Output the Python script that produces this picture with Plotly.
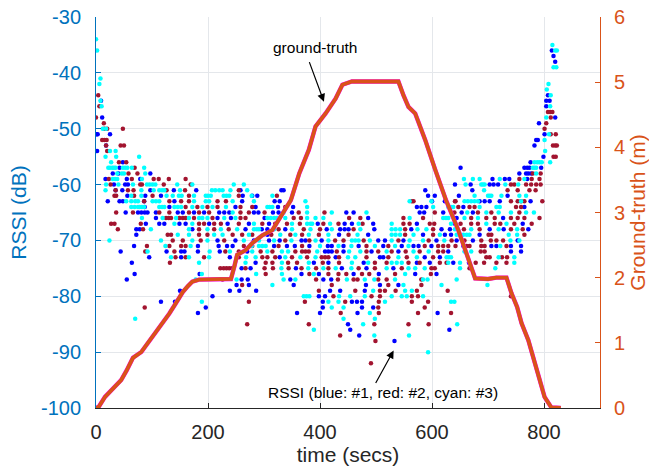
import plotly.graph_objects as go

# ---------------- data ----------------
# RSSI readings (dB) of the three receivers, grouped by dB level: (level, [times in s])
blue_rows = [
    (-36, [814]), (-37, [817]), (-38, [820]), (-44, [807]), (-45, [9, 804, 810]),
    (-46, [804]), (-48, [11, 820]), (-49, [791]), (-51, [1, 3, 25, 801]),
    (-52, [786, 789]), (-53, [18, 783]), (-54, [2]), (-55, [799]), (-56, [48, 776]),
    (-57, [42, 651, 765, 770, 774, 795]),
    (-58, [30, 40, 97, 756, 768, 772, 777]),
    (-59, [17, 55, 79, 708, 730, 738, 770]),
    (-60, [32, 52, 57, 641, 669, 703, 710, 718]),
    (-61, [35, 47, 97, 139, 179, 258, 331, 335, 588, 672]),
    (-62, [56, 88, 116, 262, 279, 288, 593, 605, 648, 735]),
    (-63, [21, 42, 48, 86, 140, 261, 319, 328, 600, 623, 685, 694, 703, 721, 776]),
    (-64, [87, 131, 249, 285, 325, 352, 573, 581, 590, 656, 765]),
    (-65, [53, 75, 81, 87, 92, 107, 146, 155, 175, 193, 220, 229, 238, 282, 290, 316,
           326, 350, 447, 460, 578, 586, 620, 653, 673]),
    (-66, [107, 217, 241, 301, 486, 644, 727]),
    (-67, [89, 113, 122, 149, 160, 202, 235, 273, 309, 396, 444, 457, 495, 573, 641, 762]),
    (-68, [72, 78, 172, 267, 296, 306, 338, 412, 436, 444, 451, 497, 563, 617, 632, 703,
           728, 772]),
    (-69, [72, 306, 434, 486, 584, 623, 634, 685]),
    (-70, [217, 249, 282, 309, 328, 367, 374, 403, 504, 516, 549, 608, 644, 673, 753]),
    (-71, [68, 182, 219, 234, 244, 318, 341, 355, 381, 414, 421, 442, 469, 513, 546, 567,
           576, 599, 656, 706, 715, 741, 759]),
    (-72, [44, 126, 152, 158, 182, 221, 270, 409, 415, 421, 442, 492, 540, 629, 741, 759]),
    (-73, [95, 152, 239, 328, 428, 507, 513, 587, 614]),
    (-74, [64, 285, 389, 415, 478, 573, 596, 638, 666]),
    (-75, [260, 276, 357, 439, 483, 531]),
    (-76, [69, 185, 367, 398, 460, 505, 570, 608]),
    (-77, [55, 260, 271, 347, 406, 420]),
    (-78, [251, 273, 353, 482, 507, 540]),
    (-79, [150, 239, 256, 286, 418, 436, 480]),
    (-80, [208, 398, 409]),
    (-81, [116, 141, 405, 457, 466, 475]),
    (-82, [196, 405, 475, 495]),
    (-83, [182, 359, 400, 467, 610]),
    (-85, [450]), (-86, [454, 631]), (-87, [470]), (-88, [533]),
]

red_rows = [
    (-44, [4]), (-46, [6]), (-47, [807, 811, 815]), (-48, [0, 812]), (-49, [14, 804]),
    (-50, [15, 20, 48, 801]), (-51, [812, 821]), (-52, [11, 15, 19]),
    (-53, [18, 44, 50, 816, 820, 823]), (-54, [20]), (-55, [817, 821]), (-56, [41, 54]),
    (-57, [69]), (-58, [58, 74, 780, 794]),
    (-59, [23, 64, 103, 112, 130, 160, 756, 778, 792]),
    (-60, [26, 79, 82, 121, 169, 741, 747, 768, 777, 786, 794]),
    (-61, [35, 57, 67, 126, 159, 255, 735, 753, 774, 785]),
    (-62, [33, 36, 68, 101, 166, 255, 323]),
    (-63, [86, 131, 152, 166, 217, 232, 564, 567, 641, 642, 741, 753, 759, 765, 797]),
    (-64, [160, 181, 199, 217, 258, 279, 338, 647, 667, 676, 750, 759]),
    (-65, [36, 66, 113, 131, 166, 184, 202, 258, 273, 301, 362, 408, 605, 640, 682, 706, 756]),
    (-66, [125, 130, 134, 149, 155, 160, 175, 208, 258, 267, 353, 366, 452, 472, 549, 584,
           670, 697, 712, 741, 753, 765, 792]),
    (-67, [27, 33, 80, 184, 193, 211, 223, 255, 297, 320, 341, 364, 406, 433, 476, 549, 560,
           596, 604, 651, 670, 682, 712, 722, 747, 778]),
    (-68, [39, 84, 184, 211, 237, 326, 371, 400, 460, 552, 602, 657, 685, 741, 762]),
    (-69, [128, 134, 184, 199, 244, 261, 279, 313, 347, 368, 398, 451, 552, 602, 701, 706, 765]),
    (-70, [137, 155, 187, 229, 338, 381, 427, 442, 478, 540, 594, 635, 658, 688, 705, 715, 727]),
    (-71, [91, 131, 152, 160, 264, 279, 326, 368, 483, 522, 587, 611, 620, 629, 642, 662,
           667, 688, 694, 733]),
    (-72, [88, 140, 231, 255, 294, 315, 356, 368, 374, 380, 430, 483, 504, 528, 553, 578,
           611, 620, 687, 694]),
    (-73, [142, 160, 193, 255, 297, 306, 320, 350, 377, 403, 409, 415, 434, 483, 522, 555,
           602, 697, 703, 725, 734]),
    (-74, [132, 303, 315, 343, 359, 405, 434, 498, 519, 558, 578, 614, 626, 678, 693, 715, 733]),
    (-75, [222, 228, 233, 238, 243, 267, 301, 316, 344, 367, 393, 415, 469, 498, 546, 599,
           605, 667]),
    (-76, [303, 381, 415, 433, 447, 475, 488, 534, 598]),
    (-77, [226, 393, 432, 460, 467, 504, 519, 581]),
    (-78, [261, 421, 522, 581]),
    (-79, [398, 463, 507, 516, 535, 573, 628]),
    (-80, [424, 492, 507, 564, 575, 741]),
    (-81, [273, 373, 445, 505, 564, 593]),
    (-82, [87, 504, 587]),
    (-83, [437, 505, 575, 634]),
    (-85, [270, 380, 497, 558, 594]),
    (-87, [436]), (-88, [499]), (-92, [491]),
]

cyan_rows = [
    (-34, [0]), (-35, [815]), (-36, [2, 820, 823]), (-39, [817, 822]), (-41, [8]),
    (-42, [6, 808]), (-43, [805]), (-44, [812]), (-45, [8]), (-46, [10, 811]),
    (-48, [804]), (-50, [12, 18]), (-51, [809]), (-52, [801]), (-54, [25, 35, 802]),
    (-55, [17, 36, 77]), (-56, [27, 783, 788, 792, 796, 811]),
    (-57, [22, 25, 29, 32, 35, 48, 52, 56, 64, 86, 780, 783, 786]),
    (-58, [38, 46, 50, 88, 786]),
    (-59, [30, 34, 38, 82, 657, 673, 685, 721, 765]),
    (-60, [18, 40, 66, 91, 96, 101, 106, 145, 172, 246, 264, 660, 688, 691, 694, 731, 754]),
    (-61, [17, 81, 103, 113, 118, 122, 150, 207, 213, 220, 226, 240, 270, 693]),
    (-62, [63, 81, 126, 137, 148, 153, 175, 196, 200, 205, 228, 233, 238, 278, 315, 676,
           700, 703, 706, 724, 756, 768]),
    (-63, [54, 63, 70, 75, 101, 107, 113, 175, 196, 202, 244, 282, 374, 560, 599, 658, 664,
           670, 676, 682, 759]),
    (-64, [63, 69, 75, 78, 82, 86, 113, 118, 122, 140, 146, 152, 172, 190, 208, 232, 306,
           310, 315, 377, 602, 629, 634, 638, 685, 715, 721]),
    (-65, [244, 335, 377, 421, 483, 663, 697, 719, 741, 768, 782]),
    (-66, [82, 119, 143, 166, 184, 190, 199, 229, 249, 306, 312, 318, 323, 338, 377, 392,
           406, 560, 620, 625, 629, 658, 682]),
    (-67, [140, 172, 282, 350, 377, 383, 386, 418, 469, 528, 634, 697, 733]),
    (-68, [98, 166, 199, 223, 252, 282, 287, 291, 318, 350, 383, 421, 472, 528, 535, 543,
           574, 590, 641, 670, 719, 752]),
    (-69, [146, 166, 211, 226, 273, 329, 356, 380, 415, 467, 528, 535, 543, 567, 614, 644,
           650, 656, 662, 667, 737, 752]),
    (-70, [24, 116, 172, 199, 264, 291, 318, 349, 392, 415, 457, 463, 469, 489, 528, 560,
           584, 622, 740, 756]),
    (-71, [124, 169, 278, 291, 297, 303, 400, 433, 456, 498, 534, 558, 722]),
    (-72, [92, 203, 239, 279, 306, 332, 343, 395, 452, 472, 519, 567, 594, 658, 670]),
    (-73, [134, 166, 202, 268, 285, 338, 365, 392, 450, 463, 540, 573, 626, 630, 634, 719, 747]),
    (-74, [184, 267, 332, 380, 457, 486, 528, 537, 546, 629, 650, 747]),
    (-75, [331, 379, 406, 428, 456, 519, 558, 570, 587, 650, 713]),
    (-76, [189, 286, 332, 389, 552]),
    (-77, [178, 251, 335, 356, 448, 480, 497, 534, 584, 592, 644]),
    (-78, [315, 549, 617, 699]),
    (-79, [495, 552, 564]),
    (-80, [371, 376, 381, 434, 454, 480, 528, 546, 555, 584]),
    (-81, [189, 415, 433, 516, 634, 640]),
    (-82, [421, 442]), (-83, [489]), (-84, [70, 442, 498]), (-85, [477, 645]),
    (-86, [389]), (-87, [497, 559]), (-90, [593]),
]

# ground-truth distance (m) over time (s)
gt_time = [0, 5, 16, 30, 45, 55, 66, 81, 95, 104, 117, 131, 142, 155, 164, 172, 184,
           200, 220, 241, 247, 252, 267, 279, 297, 315, 330, 348, 363, 380, 392, 410,
           428, 440, 457, 500, 540, 549, 558, 570, 588, 606, 625, 647, 665, 677, 700,
           715, 733, 742, 752, 760, 772, 789, 801, 813, 822, 830]
gt_dist = [0.0, 0.02, 0.17, 0.30, 0.43, 0.58, 0.77, 0.86, 1.02, 1.12, 1.27, 1.45, 1.60,
           1.78, 1.87, 1.94, 1.97, 1.97, 1.97, 1.98, 2.17, 2.35, 2.42, 2.53, 2.65, 2.73,
           2.94, 3.19, 3.60, 3.96, 4.32, 4.52, 4.75, 4.96, 5.01, 5.01, 5.01, 4.80, 4.62,
           4.52, 4.11, 3.65, 3.19, 2.73, 2.30, 1.99, 1.98, 2.00, 2.00, 1.76, 1.55, 1.30,
           1.04, 0.53, 0.17, 0.01, 0.0, 0.0]

x_ticks = [0, 200, 400, 600, 800]
rssi_ticks = [-100, -90, -80, -70, -60, -50, -40, -30]
gt_ticks = [0, 1, 2, 3, 4, 5, 6]


def flatten(rows):
    t, r = [], []
    for level, times in rows:
        for tt in times:
            t.append(tt)
            r.append(level)
    return t, r


FONT = "Liberation Sans, Arial, sans-serif"
C_LEFT = "#0072BD"
C_RIGHT = "#D95319"
C_TXT = "#262626"
GRID = "#e4e7eb"

fig = go.Figure()
for rows, col in [(blue_rows, "#0000FF"), (red_rows, "#A2142F"), (cyan_rows, "#00FFFF")]:
    t, r = flatten(rows)
    fig.add_trace(go.Scatter(x=t, y=r, mode="markers", yaxis="y",
                             marker=dict(color=col, size=4.5, line=dict(width=0)),
                             showlegend=False, hoverinfo="skip"))

fig.add_trace(go.Scatter(x=gt_time, y=gt_dist, mode="lines", yaxis="y2",
                         line=dict(color="#FF00FF", width=4.4), showlegend=False))
fig.add_trace(go.Scatter(x=gt_time, y=gt_dist, mode="lines", yaxis="y2",
                         line=dict(color=C_RIGHT, width=3.8), showlegend=False))

fig.update_layout(
    width=649, height=472,
    margin=dict(l=96, r=49, t=17, b=64, autoexpand=False),
    paper_bgcolor="white", plot_bgcolor="white",
    font=dict(family=FONT, size=20, color=C_TXT),
    xaxis=dict(range=[0, 900], tickvals=x_ticks, ticks="inside", ticklen=5,
               tickcolor=C_TXT, showline=True, linecolor=C_TXT, linewidth=1,
               showgrid=True, gridcolor=GRID, gridwidth=1, zeroline=False,
               automargin=False,
               tickfont=dict(size=20, color=C_TXT), ticklabelstandoff=6,
               title=dict(text="time (secs)", font=dict(size=21, color=C_TXT), standoff=2)),
    yaxis=dict(range=[-100, -30], tickvals=rssi_ticks, ticktext=[str(v) for v in rssi_ticks],
               ticks="inside", ticklen=5, tickcolor=C_LEFT, showline=True,
               linecolor=C_LEFT, linewidth=1, showgrid=True, gridcolor=GRID,
               zeroline=False, automargin=False,
               tickfont=dict(size=20, color=C_LEFT), ticklabelstandoff=10,
               title=dict(text="RSSI (dB)", font=dict(size=21, color=C_LEFT), standoff=8)),
    yaxis2=dict(range=[0, 6], tickvals=gt_ticks, overlaying="y", side="right",
                ticks="inside", ticklen=5, tickcolor=C_RIGHT, showline=True,
                linecolor=C_RIGHT, linewidth=1, showgrid=False, zeroline=False,
                automargin=False,
                tickfont=dict(size=20, color=C_RIGHT), ticklabelstandoff=9,
                title=dict(text="Ground-truth (m)", font=dict(size=21, color=C_RIGHT), standoff=16)),
)

ann_font = dict(family=FONT, size=15.5, color="#000000")
fig.add_annotation(x=391, y=5.53, xref="x", yref="y2", text="ground-truth",
                   showarrow=False, font=ann_font)
fig.add_annotation(x=407, y=4.70, xref="x", yref="y2", ax=380, ay=5.33,
                   axref="x", ayref="y2", text="", showarrow=True, arrowhead=2,
                   arrowsize=1.3, arrowwidth=1.2, arrowcolor="#000000", standoff=0)
fig.add_annotation(x=512, y=-97.3, xref="x", yref="y", text="RSSI (blue: #1, red: #2, cyan: #3)",
                   showarrow=False, font=ann_font)
fig.add_annotation(x=531.5, y=-89.7, xref="x", yref="y", ax=498, ay=-95.8,
                   axref="x", ayref="y", text="", showarrow=True, arrowhead=2,
                   arrowsize=1.3, arrowwidth=1.2, arrowcolor="#000000", standoff=0)

fig.write_html("out.html")
